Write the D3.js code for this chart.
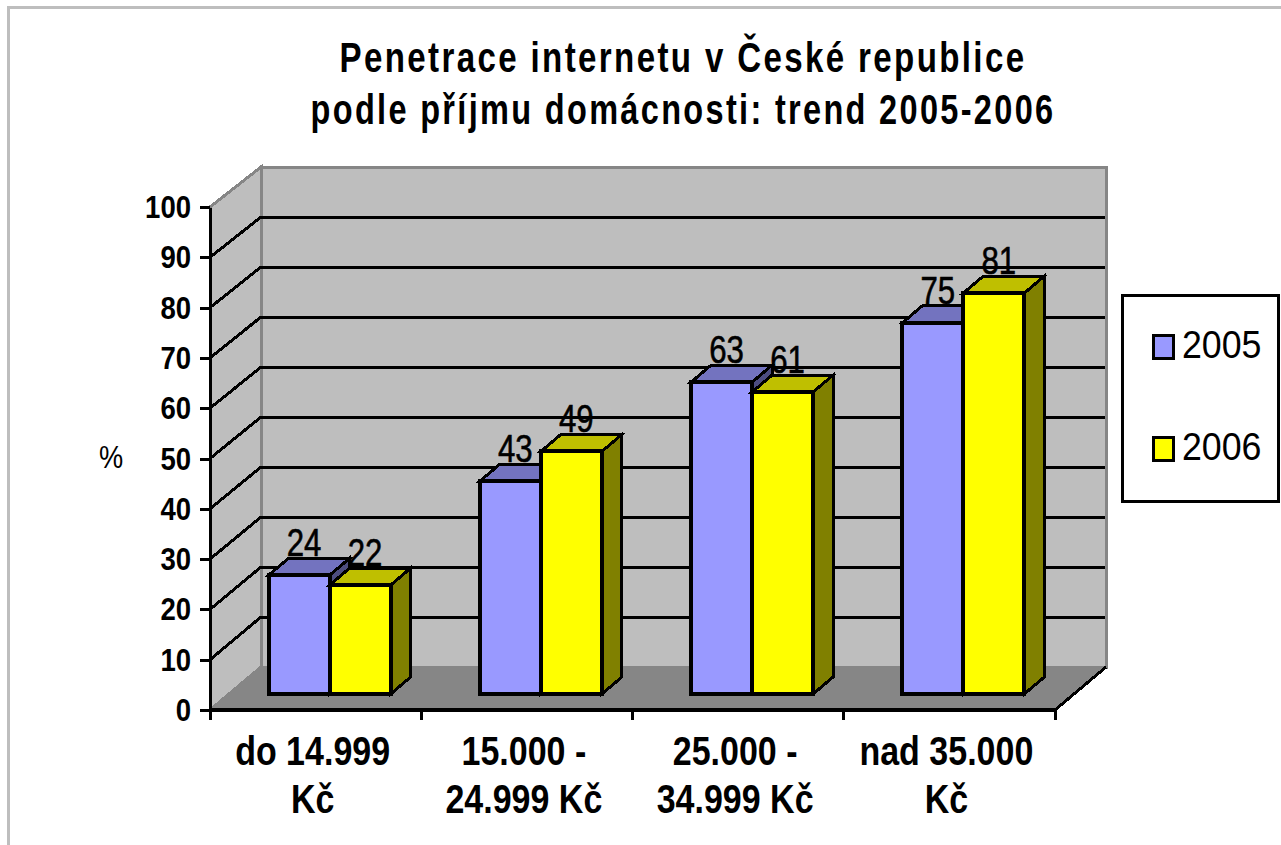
<!DOCTYPE html>
<html>
<head>
<meta charset="utf-8">
<script src="https://cdn.jsdelivr.net/npm/d3@7"></script>
<style>
  html, body { margin: 0; padding: 0; background: #fff; overflow: hidden; }
  text { font-family: "Liberation Sans", Arial, sans-serif; fill: #000; }
</style>
</head>
<body>
<div id="chart"></div>
<script>
// chart data
const categories = ["do 14.999 Kč", "15.000 - 24.999 Kč", "25.000 - 34.999 Kč", "nad 35.000 Kč"];
const categoryLines = [["do 14.999", "Kč"], ["15.000 -", "24.999 Kč"], ["25.000 -", "34.999 Kč"], ["nad 35.000", "Kč"]];
const values2005 = [24, 43, 63, 75];
const values2006 = [22, 49, 61, 81];
const yTicks = [0, 10, 20, 30, 40, 50, 60, 70, 80, 90, 100];
const titleLines = ["Penetrace internetu v České republice", "podle příjmu domácnosti: trend 2005-2006"];

const width = 1281, height = 845;

const svg = d3.select("#chart").append("svg")
    .attr("width", width)
    .attr("height", height)
    .attr("shape-rendering", "crispEdges"); // the original is a jagged bitmap

// squeeze text horizontally, the original font is narrower than Liberation
function squeeze(sel, factor) {
    sel.each(function() {
        const len = this.getComputedTextLength();
        d3.select(this).attr("textLength", len * factor).attr("lengthAdjust", "spacingAndGlyphs");
    });
}

// outer frame, runs off the right and bottom of the picture
svg.append("path")
    .attr("d", d3.line()([[8.5, height], [8.5, 7.5], [width, 7.5]]))
    .attr("fill", "none")
    .attr("stroke", "#bebebe")
    .attr("stroke-width", 3);

// front plane of the 3D box
const yFront = d3.scaleLinear().domain([0, 100]).range([710, 207]);
const xFront = d3.scaleBand().domain(categories).range([210, 1055]);
// back plane of the box
const yBack = d3.scaleLinear().domain([0, 100]).range([667, 167]);
const depthX = 51;
const x0 = xFront.range()[0], x1 = xFront.range()[1];
const xBackLeft = x0 + depthX, xBackRight = x1 + depthX;

const pathOf = d3.line();

// back wall
svg.append("path")
    .attr("d", pathOf([[xBackLeft, yBack(100)], [xBackRight, yBack(100)], [xBackRight, yBack(0)], [xBackLeft, yBack(0)]]) + "Z")
    .attr("fill", "#bebebe")
    .attr("stroke", "#868686")
    .attr("stroke-width", 3);

// side wall
svg.append("path")
    .attr("d", pathOf([[x0, yFront(100)], [xBackLeft, yBack(100)], [xBackLeft, yBack(0)], [x0, yFront(0)]]) + "Z")
    .attr("fill", "#bebebe")
    .attr("stroke", "#868686")
    .attr("stroke-width", 3);

// floor
svg.append("path")
    .attr("d", pathOf([[x0, yFront(0)], [xBackLeft, yBack(0)], [xBackRight, yBack(0)], [x1, yFront(0)]]) + "Z")
    .attr("fill", "#868686");

// gridlines, on the side wall and the back wall
const gridValues = yTicks.filter(d => d > 0 && d < 100);
svg.append("g").selectAll("path")
    .data(gridValues)
    .join("path")
    .attr("d", d => pathOf([[x0, yFront(d)], [xBackLeft, yBack(d)], [xBackRight - 1, yBack(d)]]))
    .attr("fill", "none")
    .attr("stroke", "#000")
    .attr("stroke-width", 3);

// right edge of the floor
svg.append("path")
    .attr("d", pathOf([[x1, yFront(0)], [xBackRight, yBack(0)]]))
    .attr("stroke", "#000")
    .attr("stroke-width", 3);

// y axis
const yAxis = svg.append("g")
    .attr("transform", `translate(${x0},0)`)
    .call(d3.axisLeft(yFront).tickValues(yTicks).tickSize(10).tickPadding(9).tickSizeOuter(0));
yAxis.selectAll("path, line").attr("stroke", "#000").attr("stroke-width", 3);
yAxis.selectAll("text")
    .style("font-family", '"Liberation Sans", Arial, sans-serif')
    .style("font-size", "32px")
    .style("font-weight", "bold")
    .attr("dy", "0.33em")
    .call(squeeze, 0.86);

// x axis, ticks sit between the categories
const xEdges = categories.map(c => xFront(c)).concat([x1]);
svg.append("path")
    .attr("d", pathOf([[x0, yFront(0)], [x1, yFront(0)]]))
    .attr("stroke", "#000")
    .attr("stroke-width", 4);
svg.append("g").selectAll("line")
    .data(xEdges)
    .join("line")
    .attr("x1", d => d).attr("x2", d => d)
    .attr("y1", yFront(0)).attr("y2", yFront(0) + 10)
    .attr("stroke", "#000")
    .attr("stroke-width", 3);

const xLabels = svg.append("g").selectAll("g")
    .data(categories)
    .join("g")
    .attr("transform", c => `translate(${xFront(c) + xFront.bandwidth() / 2 - 3},0)`);
xLabels.selectAll("text")
    .data((c, i) => categoryLines[i])
    .join("text")
    .attr("y", (d, i) => 765 + i * 48)
    .attr("text-anchor", "middle")
    .style("font-size", "40px")
    .style("font-weight", "bold")
    .text(d => d)
    .call(squeeze, 0.85);

// y axis title
svg.append("text")
    .attr("x", 111).attr("y", 468)
    .attr("text-anchor", "middle")
    .style("font-size", "32px")
    .text("%")
    .call(squeeze, 0.85);

// bars: the plane they stand on is a bit inside the box
const barBase = 694, barUnit = 4.95;
const yBar = d3.scaleLinear().domain([0, 100]).range([barBase, barBase - 100 * barUnit]);
const xBar = d3.scaleBand().domain(categories).range([224, 1069]);
const barWidth = 61, barDepthX = 20, barDepthY = -17;

const series = [
    { name: "2005", values: values2005, front: "#9999ff", top: "#7373bf", side: "#4d4d80", shift: -barWidth },
    { name: "2006", values: values2006, front: "#ffff00", top: "#bfbf00", side: "#808000", shift: 0 }
];

series.forEach(s => {
    const bars = svg.append("g").selectAll("g")
        .data(categories.map((c, i) => ({ c, v: s.values[i] })))
        .join("g");

    const left = d => xBar(d.c) + xBar.bandwidth() / 2 + s.shift;

    bars.append("path")
        .attr("d", d => {
            const x = left(d) + barWidth, y = yBar(d.v);
            return pathOf([[x, y], [x + barDepthX, y + barDepthY], [x + barDepthX, barBase + barDepthY], [x, barBase]]) + "Z";
        })
        .attr("fill", s.side).attr("stroke", "#000").attr("stroke-width", 3);

    bars.append("path")
        .attr("d", d => {
            const x = left(d), y = yBar(d.v);
            return pathOf([[x, y], [x + barDepthX, y + barDepthY], [x + barWidth + barDepthX, y + barDepthY], [x + barWidth, y]]) + "Z";
        })
        .attr("fill", s.top).attr("stroke", "#000").attr("stroke-width", 3);

    bars.append("rect")
        .attr("x", left)
        .attr("y", d => yBar(d.v))
        .attr("width", barWidth)
        .attr("height", d => barBase - yBar(d.v))
        .attr("fill", s.front).attr("stroke", "#000").attr("stroke-width", 4);
});

// value labels go on top of everything
series.forEach(s => {
    svg.append("g").selectAll("text")
        .data(categories.map((c, i) => ({ c, v: s.values[i] })))
        .join("text")
        .attr("x", d => xBar(d.c) + xBar.bandwidth() / 2 + s.shift + barWidth / 2 + 5)
        .attr("y", d => yBar(d.v) - 19)
        .attr("text-anchor", "middle")
        .style("font-size", "38px")
        .style("stroke", "#000")
        .style("stroke-width", "0.6px")
        .text(d => d.v)
        .call(squeeze, 0.82);
});

// title, narrowed with a transform because it is also letter spaced
svg.append("g").selectAll("text")
    .data(titleLines)
    .join("text")
    .attr("transform", (d, i) => `translate(683,${72 + i * 52}) scale(${i ? 0.774 : 0.788},1)`)
    .attr("text-anchor", "middle")
    .style("font-size", "42px")
    .style("font-weight", "bold")
    .style("letter-spacing", "3px")
    .text(d => d);

// legend
svg.append("rect")
    .attr("x", 1122.5).attr("y", 295.5)
    .attr("width", 156).attr("height", 206)
    .attr("fill", "#fff").attr("stroke", "#000").attr("stroke-width", 3);

const legend = svg.append("g").selectAll("g")
    .data(series)
    .join("g")
    .attr("transform", (d, i) => `translate(1153,${335 + i * 102})`);
legend.append("rect")
    .attr("width", 20).attr("height", 23)
    .attr("fill", d => d.front).attr("stroke", "#000").attr("stroke-width", 3);
legend.append("text")
    .attr("x", 29).attr("y", 23)
    .style("font-size", "38px")
    .text(d => d.name)
    .call(squeeze, 0.94);
</script>
</body>
</html>
